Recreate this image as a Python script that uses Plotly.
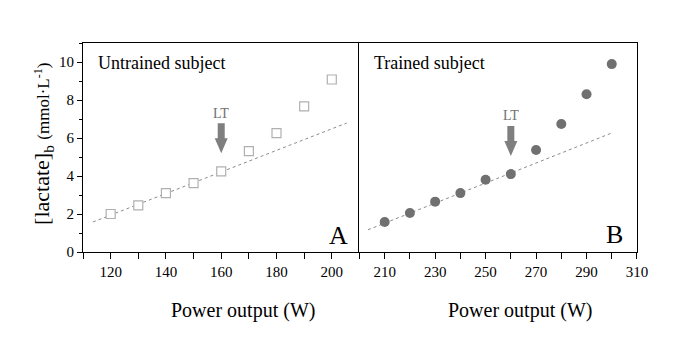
import plotly.graph_objects as go

# ---- data ----
power_A = [120, 130, 140, 150, 160, 170, 180, 190, 200]
lactate_A = [2.0, 2.45, 3.1, 3.63, 4.24, 5.31, 6.26, 7.66, 9.08]
fit_A_x = [113.6, 205.4]
fit_A_y = [1.58, 6.79]
LT_A = 160
LT_A_tip = 5.2
LT_A_label_y = 7.3

power_B = [210, 220, 230, 240, 250, 260, 270, 280, 290, 300]
lactate_B = [1.58, 2.05, 2.65, 3.1, 3.8, 4.1, 5.37, 6.74, 8.3, 9.89]
fit_B_x = [203.4, 300.5]
fit_B_y = [1.17, 6.29]
LT_B = 260
LT_B_tip = 5.05
LT_B_label_y = 7.2

y_range = [0, 11]
xA_range = [110, 210]
xB_range = [200, 310]

SERIF = "Liberation Serif"

fig = go.Figure()

fig.add_trace(go.Scatter(x=fit_A_x, y=fit_A_y, mode="lines",
                         line=dict(color="#8a8a8a", width=1, dash="dot"),
                         xaxis="x", yaxis="y", showlegend=False))
fig.add_trace(go.Scatter(x=power_A, y=lactate_A, mode="markers",
                         marker=dict(symbol="square", size=9, color="white",
                                     line=dict(color="#b0b0b0", width=1.2)),
                         xaxis="x", yaxis="y", showlegend=False))
fig.add_trace(go.Scatter(x=fit_B_x, y=fit_B_y, mode="lines",
                         line=dict(color="#8a8a8a", width=1, dash="dot"),
                         xaxis="x2", yaxis="y2", showlegend=False))
fig.add_trace(go.Scatter(x=power_B, y=lactate_B, mode="markers",
                         marker=dict(symbol="circle", size=10, color="#707070",
                                     line=dict(width=0)),
                         xaxis="x2", yaxis="y2", showlegend=False))

axis_common = dict(showline=True, linecolor="black", linewidth=1, mirror=True,
                   showgrid=False, zeroline=False,
                   tickfont=dict(family=SERIF, size=15, color="black"),
                   ticks="outside", ticklen=6, tickcolor="black", tickwidth=1)

fig.update_layout(
    width=696, height=345,
    margin=dict(l=83, r=59, t=43, b=93, autoexpand=False),
    paper_bgcolor="white", plot_bgcolor="white",
    xaxis=dict(domain=[0, 0.499], range=xA_range, tick0=120, dtick=20,
               minor=dict(dtick=10, tick0=110, ticks="outside", ticklen=6, tickcolor="black"),
               anchor="y", **axis_common),
    yaxis=dict(domain=[0, 1], range=y_range, tick0=0, dtick=2,
               minor=dict(dtick=1, ticks="outside", ticklen=3, tickcolor="black"),
               anchor="x", **{**axis_common, "ticklen": 5, "mirror": False}),
    xaxis2=dict(domain=[0.499, 1], range=xB_range, tick0=210, dtick=20,
                minor=dict(dtick=10, tick0=200, ticks="outside", ticklen=6, tickcolor="black"),
                anchor="y2", **axis_common),
    yaxis2=dict(domain=[0, 1], range=y_range, anchor="x2", showticklabels=False,
                showline=True, linecolor="black", linewidth=1, mirror=True,
                showgrid=False, zeroline=False, ticks=""),
)

# LT arrows (pixel-sized block arrows anchored at LT power)
arrow_path = "M0,0 L-6.5,15 L-3.5,15 L-3.5,30 L3.5,30 L3.5,15 L6.5,15 Z"
for xr, yr, lt, tip in [("x", "y", LT_A, LT_A_tip), ("x2", "y2", LT_B, LT_B_tip)]:
    fig.add_shape(type="path", xref=xr, yref=yr, xsizemode="pixel", ysizemode="pixel",
                  xanchor=lt, yanchor=tip, path=arrow_path,
                  fillcolor="#7f7f7f", line=dict(width=0))

annotations = [
    dict(text="LT", x=LT_A, y=LT_A_label_y, xref="x", yref="y", showarrow=False,
         font=dict(family=SERIF, size=14, color="#707070")),
    dict(text="LT", x=LT_B, y=LT_B_label_y, xref="x2", yref="y2", showarrow=False,
         font=dict(family=SERIF, size=14, color="#707070")),
    dict(text="Untrained subject", x=0.048, y=0.905, xref="x domain", yref="y domain",
         xanchor="left", yanchor="middle", showarrow=False,
         font=dict(family=SERIF, size=18, color="black")),
    dict(text="Trained subject", x=0.045, y=0.905, xref="x2 domain", yref="y2 domain",
         xanchor="left", yanchor="middle", showarrow=False,
         font=dict(family=SERIF, size=18, color="black")),
    dict(text="A", x=0.924, y=0.08, xref="x domain", yref="y domain",
         xanchor="center", yanchor="middle", showarrow=False,
         font=dict(family=SERIF, size=26, color="black")),
    dict(text="B", x=0.918, y=0.085, xref="x2 domain", yref="y2 domain",
         xanchor="center", yanchor="middle", showarrow=False,
         font=dict(family=SERIF, size=26, color="black")),
    dict(text="Power output (W)", x=0.578, y=-0.281, xref="x domain", yref="y domain",
         xanchor="center", yanchor="middle", showarrow=False,
         font=dict(family=SERIF, size=20, color="black")),
    dict(text="Power output (W)", x=0.579, y=-0.281, xref="x2 domain", yref="y2 domain",
         xanchor="center", yanchor="middle", showarrow=False,
         font=dict(family=SERIF, size=20, color="black")),
    dict(text="[lactate]<sub>b</sub> <span style='font-size:17px'>(mmol·L<sup>-1</sup>)</span>",
         x=-0.144, y=0.518, xref="x domain", yref="y domain", textangle=-90,
         xanchor="center", yanchor="middle", showarrow=False,
         font=dict(family=SERIF, size=22, color="black")),
]
fig.update_layout(annotations=annotations)

fig.write_html("out.html")
